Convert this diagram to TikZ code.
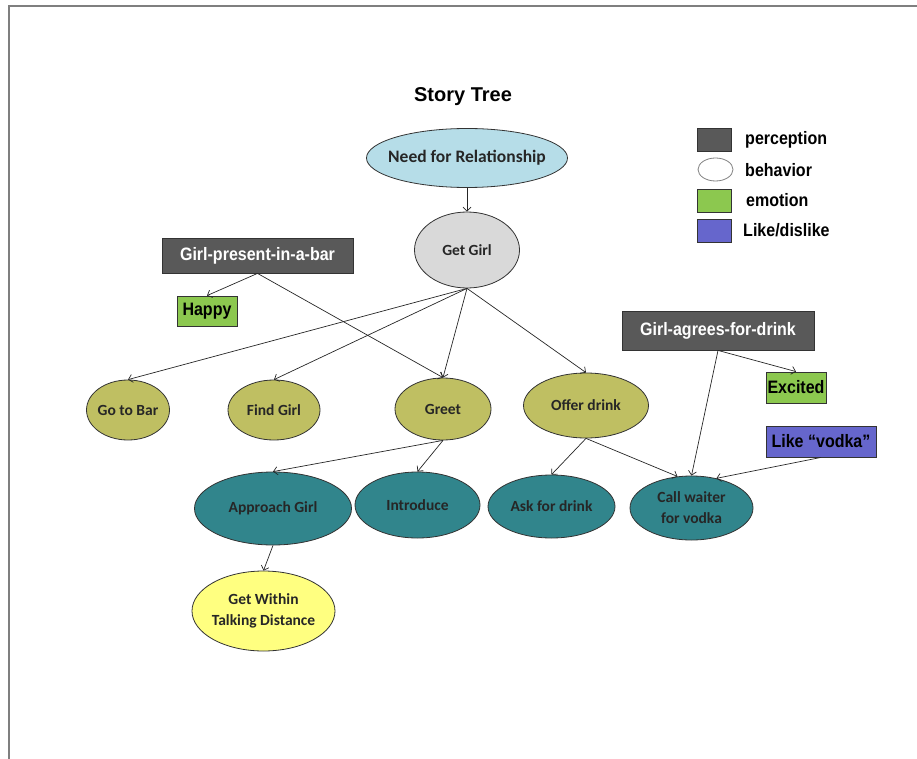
\documentclass[tikz,border=0pt]{standalone}
\usepackage{fontspec}
\usetikzlibrary{shapes.geometric,arrows.meta}
\newfontfamily\calib{Carlito}
\newfontfamily\arialn[FakeStretch=0.89]{Liberation Sans}
\newfontfamily\arialt{Liberation Sans}
\definecolor{framegray}{HTML}{7F7F7F}
\definecolor{needblue}{HTML}{B6DDE8}
\definecolor{getgray}{HTML}{D9D9D9}
\definecolor{olivefill}{HTML}{BFBF62}
\definecolor{tealfill}{HTML}{31858C}
\definecolor{yellowfill}{HTML}{FFFF80}
\definecolor{percfill}{HTML}{595959}
\definecolor{emofill}{HTML}{8CC84F}
\definecolor{likefill}{HTML}{6666CC}
\definecolor{outline}{HTML}{333333}
\newcommand{\ellfont}{\calib\bfseries\fontsize{15.5}{21}\selectfont}
\newcommand{\boxfont}{\arialn\bfseries\fontsize{18}{21}\selectfont}
\tikzset{
  bhv/.style={ellipse, draw=outline, line width=0.8pt, inner sep=0pt},
  intext/.style={font=\ellfont, align=center, text=black!85, inner sep=0pt},
  tag/.style={rectangle, draw=outline, line width=0.8pt, inner sep=0pt, font=\boxfont},
  perc/.style={tag, fill=percfill, text=white},
  emo/.style={tag, fill=emofill, text=black},
  likes/.style={tag, fill=likefill, text=black},
  legtext/.style={anchor=west, font=\boxfont, inner sep=0pt},
  link/.style={draw=black!85, line width=0.7pt, -{Straight Barb[length=4pt,width=8pt]}},
}
\begin{document}
\begin{tikzpicture}[x=1pt, y=-1pt]
  \useasboundingbox (0,0) rectangle (917,759);
  % page frame (top and left edges)
  \draw[framegray, line width=1.5pt] (917,6) -- (9,6) -- (9,759);

  % title
  \node[font=\arialt\bfseries\fontsize{20}{24}\selectfont, inner sep=0pt] (title) at (463,97) {Story Tree};

  % legend
  \node[perc, minimum width=34, minimum height=23] (lgperc) at (714,139.5) {};
  \node[legtext] (lgperct) at (745,140) {perception};
  \node[ellipse, draw=black!50, line width=0.8pt, fill=white, minimum width=35, minimum height=23, inner sep=0pt] (lgbhv) at (715.5,169.5) {};
  \node[legtext] (lgbhvt) at (745,170) {behavior};
  \node[emo, minimum width=34, minimum height=23] (lgemo) at (714,200.5) {};
  \node[legtext] (lgemot) at (746,200) {emotion};
  \node[likes, minimum width=34, minimum height=23] (lglike) at (714,230.5) {};
  \node[legtext] (lgliket) at (743,230) {Like/dislike};

  % behaviour ellipses
  \node[bhv, fill=needblue, minimum width=201, minimum height=59,
        label={[intext, font=\calib\bfseries\fontsize{17.5}{22}\selectfont]center:Need for Relationship}] (need) at (467,158) {};
  \node[bhv, fill=getgray, minimum width=105, minimum height=76,
        label={[intext]center:Get Girl}] (get) at (467,250) {};
  \node[bhv, fill=olivefill, minimum width=83, minimum height=60,
        label={[intext]center:Go to Bar}] (bar) at (128,410) {};
  \node[bhv, fill=olivefill, minimum width=92, minimum height=60,
        label={[intext]center:Find Girl}] (find) at (274,410) {};
  \node[bhv, fill=olivefill, minimum width=96, minimum height=62,
        label={[intext]center:Greet}] (greet) at (443,409) {};
  \node[bhv, fill=olivefill, minimum width=125, minimum height=65,
        label={[intext]center:Offer drink}] (offer) at (586,405.5) {};
  \node[bhv, fill=tealfill, minimum width=157, minimum height=73,
        label={[intext]center:Approach Girl}] (approach) at (273,508.5) {};
  \node[bhv, fill=tealfill, minimum width=125, minimum height=66,
        label={[intext]center:Introduce}] (intro) at (417.5,505) {};
  \node[bhv, fill=tealfill, minimum width=127, minimum height=63,
        label={[intext]center:Ask for drink}] (ask) at (551.5,506.5) {};
  \node[bhv, fill=tealfill, minimum width=123, minimum height=64,
        label={[intext]center:Call waiter\\for vodka}] (waiter) at (691.5,508) {};
  \node[bhv, fill=yellowfill, minimum width=143, minimum height=80,
        label={[intext]center:Get Within\\Talking Distance}] (within) at (263.5,611) {};

  % perception / emotion / preference boxes
  \node[perc, minimum width=191, minimum height=35] (present) at (257.5,255.5) {Girl-present-in-a-bar};
  \node[emo, minimum width=60, minimum height=30] (happy) at (207,311) {Happy};
  \node[perc, minimum width=192, minimum height=39] (agrees) at (718,330.5) {Girl-agrees-for-drink};
  \node[emo, minimum width=60, minimum height=31] (excited) at (796,387.5) {Excited};
  \node[likes, minimum width=110, minimum height=31] (vodka) at (821,441.5) {Like \textquotedblleft vodka\textquotedblright};

  % connectors
  \draw[link] (need.south) -- (get.north);
  \draw[link] (get.south) -- (bar.north);
  \draw[link] (get.south) -- (find.north);
  \draw[link] (get.south) -- (greet.north);
  \draw[link] (get.south) -- (offer.north);
  \draw[link] (present.south) -- (happy.north);
  \draw[link] (present.south) -- (greet.north);
  \draw[link] (greet.south) -- (approach.north);
  \draw[link] (greet.south) -- (intro.north);
  \draw[link] (offer.south) -- (ask.north);
  \draw[link] (offer.south) -- (waiter.114);
  \draw[link] (agrees.south) -- (waiter.north);
  \draw[link] (agrees.south) -- (excited.north);
  \draw[link] (vodka.south) -- (waiter.50);
  \draw[link] (approach.south) -- (within.north);
\end{tikzpicture}
\end{document}
